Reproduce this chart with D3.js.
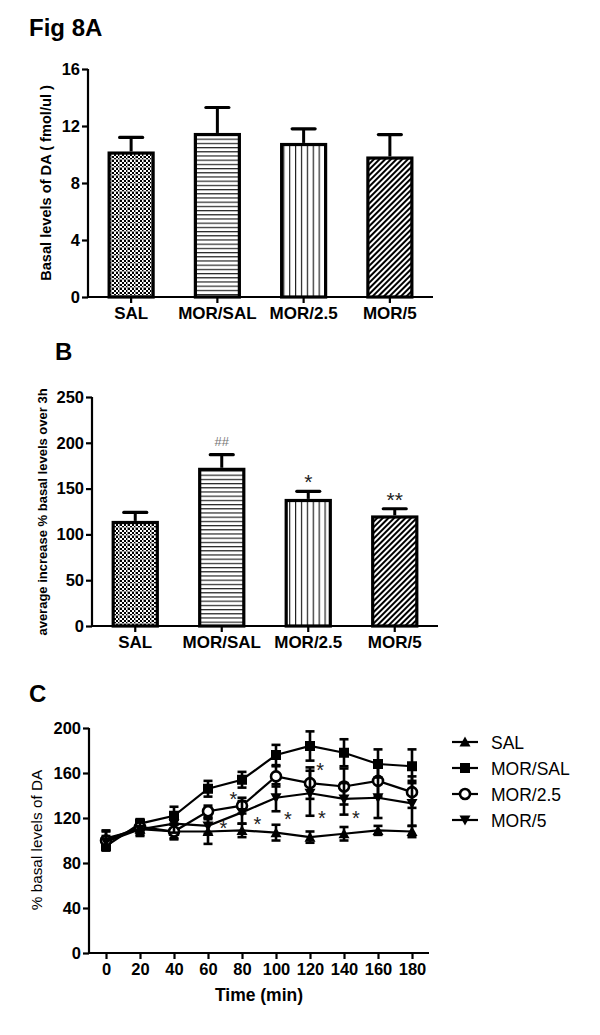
<!DOCTYPE html>
<html>
<head>
<meta charset="utf-8">
<script src="https://cdn.jsdelivr.net/npm/d3@7"></script>
<style>
body{margin:0;background:#fff;}
svg{display:block;font-family:"Liberation Sans",Arial,sans-serif;}
</style>
</head>
<body>
<svg id="chart" width="600" height="1035"></svg>
<script>
// ---------- DATA ----------
const categories = ["SAL", "MOR/SAL", "MOR/2.5", "MOR/5"];
const basalMeans = [10.1, 11.4, 10.7, 9.75];
const basalSEM   = [1.1, 1.9, 1.1, 1.65];
const basalTicks = [0, 4, 8, 12, 16];

const avgMeans = [113, 171, 137, 119];
const avgSEM   = [11, 16, 10, 9];
const avgTicks = [0, 50, 100, 150, 200, 250];
const avgMarks = ["", "##", "*", "**"];

const times = [0, 20, 40, 60, 80, 100, 120, 140, 160, 180];
const salMean    = [102, 110, 108, 108, 109, 107, 103, 106, 109, 108];
const salSEM     = [7, 5, 6, 11, 6, 7, 5, 6, 4, 5];
const morSalMean = [95, 115, 122, 146, 154, 176, 184, 178, 168, 166];
const morSalSEM  = [4, 4, 8, 7, 7, 9, 13, 12, 13, 15];
const mor25Mean  = [100, 112, 108, 126, 131, 157, 151, 148, 153, 143];
const mor25SEM   = [8, 5, 7, 5, 7, 9, 14, 16, 14, 14];
const mor5Mean   = [99, 110, 115, 113, 125, 138, 142, 137, 138, 133];
const mor5SEM    = [5, 6, 8, 7, 10, 12, 20, 14, 18, 20];
const timeTicks  = [0, 20, 40, 60, 80, 100, 120, 140, 160, 180];
const pctTicks   = [0, 40, 80, 120, 160, 200];
const seriesNames = ["SAL", "MOR/SAL", "MOR/2.5", "MOR/5"];
// asterisk annotations in panel C: [time, value]
const starTimes  = [75, 69, 89, 107, 126, 127, 147];
const starValues = [140, 114, 117, 122, 165, 123, 123];

// ---------- SETUP ----------
const svg = d3.select("#chart");
const defs = svg.append("defs");

// pattern: checker (SAL)
const pSal = defs.append("pattern").attr("id","pSal").attr("patternUnits","userSpaceOnUse").attr("width",8).attr("height",8);
pSal.append("rect").attr("width",8).attr("height",8).attr("fill","#fff");
[[0,0],[2,2],[4,0],[6,2],[0,4],[2,6],[4,4],[6,6]].forEach(([x,y])=>pSal.append("rect").attr("x",x).attr("y",y).attr("width",2).attr("height",2).attr("fill","#000"));
pSal.append("rect").attr("x",7).attr("y",0).attr("width",1).attr("height",8).attr("fill","#999");
pSal.append("rect").attr("x",0).attr("y",7).attr("width",8).attr("height",1).attr("fill","#999");
// horizontal lines (MOR/SAL)
const pH = defs.append("pattern").attr("id","pH").attr("patternUnits","userSpaceOnUse").attr("width",8).attr("height",4.2);
pH.append("rect").attr("width",8).attr("height",4.2).attr("fill","#fff");
pH.append("rect").attr("y",0).attr("width",8).attr("height",1.2).attr("fill","#222");
// vertical lines (MOR/2.5)
const pV = defs.append("pattern").attr("id","pV").attr("patternUnits","userSpaceOnUse").attr("width",5.9).attr("height",8);
pV.append("rect").attr("width",5.9).attr("height",8).attr("fill","#fff");
pV.append("rect").attr("x",0).attr("width",1.2).attr("height",8).attr("fill","#222");
// diagonal (MOR/5)
const pD = defs.append("pattern").attr("id","pD").attr("patternUnits","userSpaceOnUse").attr("width",4).attr("height",4).attr("patternTransform","rotate(45)");
pD.append("rect").attr("width",4).attr("height",4).attr("fill","#fff");
pD.append("rect").attr("x",0).attr("width",2).attr("height",4).attr("fill","#000");
const fills = ["url(#pSal)","url(#pH)","url(#pV)","url(#pD)"];

function styleAxis(g, fontSize){
  g.selectAll(".domain").attr("stroke","#000").attr("stroke-width",2.2);
  g.selectAll(".tick line").attr("stroke","#000").attr("stroke-width",2.2);
  g.selectAll(".tick text").attr("fill","#000").attr("font-weight","bold").attr("font-size",fontSize)
    .attr("font-family","'Liberation Sans',Arial,sans-serif");
}

function barPanel(opts){
  const x = d3.scaleBand().domain(categories).range(opts.xr).paddingInner(0.49).paddingOuter(0.245);
  const y = d3.scaleLinear().domain(opts.ydom).range(opts.yr);
  const g = svg.append("g");
  // bars
  g.selectAll("rect.bar").data(categories).join("rect").attr("class","bar")
    .attr("x",d=>x(d)).attr("width",x.bandwidth())
    .attr("y",(d,i)=>y(opts.means[i])).attr("height",(d,i)=>y(0)-y(opts.means[i]))
    .attr("fill",(d,i)=>fills[i]).attr("stroke","#000").attr("stroke-width",3.2);
  // error bars (upper)
  g.selectAll("line.err").data(categories).join("line").attr("class","err")
    .attr("x1",d=>x(d)+x.bandwidth()/2).attr("x2",d=>x(d)+x.bandwidth()/2)
    .attr("y1",(d,i)=>y(opts.means[i])-1.6).attr("y2",(d,i)=>y(opts.means[i]+opts.sem[i]))
    .attr("stroke","#000").attr("stroke-width",3);
  g.selectAll("line.cap").data(categories).join("line").attr("class","cap")
    .attr("x1",d=>x(d)+x.bandwidth()/2-11.5).attr("x2",d=>x(d)+x.bandwidth()/2+11.5)
    .attr("y1",(d,i)=>y(opts.means[i]+opts.sem[i])).attr("y2",(d,i)=>y(opts.means[i]+opts.sem[i]))
    .attr("stroke","#000").attr("stroke-width",3.2).attr("stroke-linecap","round");
  // axes
  const ya = g.append("g").attr("transform",`translate(${opts.xr[0]},0)`)
    .call(d3.axisLeft(y).tickValues(opts.ticks).tickSize(6).tickPadding(2).tickSizeOuter(0));
  styleAxis(ya, 16.5);
  const xa = g.append("g").attr("transform",`translate(0,${opts.yr[0]})`)
    .call(d3.axisBottom(x).tickSize(6).tickPadding(4).tickSizeOuter(0));
  styleAxis(xa, 17);
  xa.select(".domain").attr("d",`M${opts.xr[0]-1},0H${opts.xr[1]}`);
  ya.select(".domain").attr("d",`M0,${opts.yr[0]}V${opts.yr[1]}`);
  return {g,x,y};
}

// ---------- PANEL A ----------
svg.append("text").attr("x",29).attr("y",36).attr("font-size",24).attr("font-weight","bold").text("Fig 8A");
barPanel({xr:[88,433], yr:[297,69], ydom:[0,16], means:basalMeans, sem:basalSEM, ticks:basalTicks});
svg.append("text").attr("transform","translate(51,183) rotate(-90)").attr("text-anchor","middle")
  .attr("font-size",14.6).attr("font-weight","bold").text("Basal levels of DA ( fmol/ul )");

// ---------- PANEL B ----------
svg.append("text").attr("x",55).attr("y",360).attr("font-size",24).attr("font-weight","bold").text("B");
const B = barPanel({xr:[92,438], yr:[626,397], ydom:[0,250], means:avgMeans, sem:avgSEM, ticks:avgTicks});
svg.append("text").attr("transform","translate(47,512) rotate(-90)").attr("text-anchor","middle")
  .attr("font-size",13).attr("font-weight","bold").text("average increase % basal levels over 3h");
B.g.selectAll("text.mark").data(categories).join("text").attr("class","mark")
  .attr("x",d=>B.x(d)+B.x.bandwidth()/2)
  .attr("y",(d,i)=>B.y(avgMeans[i]+avgSEM[i]) - (i===1?9:2))
  .attr("text-anchor","middle").attr("font-size",(d,i)=>i===1?13:21)
  .attr("fill",(d,i)=>i===1?"#777":"#222").text((d,i)=>avgMarks[i]);

// ---------- PANEL C ----------
svg.append("text").attr("x",29).attr("y",702).attr("font-size",24).attr("font-weight","bold").text("C");
const xc = d3.scaleLinear().domain([-10,190]).range([89,429]);
const yc = d3.scaleLinear().domain([0,200]).range([953,728]);
const gc = svg.append("g");
const series = [
  {name:seriesNames[0], mean:salMean, sem:salSEM, sym:"up"},
  {name:seriesNames[1], mean:morSalMean, sem:morSalSEM, sym:"square"},
  {name:seriesNames[2], mean:mor25Mean, sem:mor25SEM, sym:"circle"},
  {name:seriesNames[3], mean:mor5Mean, sem:mor5SEM, sym:"down"}
];
const line = d3.line().x(d=>xc(d[0])).y(d=>yc(d[1]));
function drawMarker(sel, sym){
  if(sym==="square") sel.append("rect").attr("x",-5).attr("y",-5).attr("width",10).attr("height",10).attr("fill","#000");
  else if(sym==="circle") sel.append("circle").attr("r",5).attr("fill","#fff").attr("stroke","#000").attr("stroke-width",2.6);
  else if(sym==="up") sel.append("path").attr("d","M0,-5.5L5.5,4.5L-5.5,4.5Z").attr("fill","#000");
  else sel.append("path").attr("d","M0,5.5L5.5,-4.5L-5.5,-4.5Z").attr("fill","#000");
}
series.forEach(s=>{
  const pts = times.map((t,i)=>[t,s.mean[i],s.sem[i]]);
  const sg = gc.append("g");
  sg.append("path").datum(pts).attr("d",line).attr("fill","none").attr("stroke","#000").attr("stroke-width",2.2);
  sg.selectAll("line.v").data(pts).join("line").attr("class","v")
    .attr("x1",d=>xc(d[0])).attr("x2",d=>xc(d[0])).attr("y1",d=>yc(d[1]-d[2])).attr("y2",d=>yc(d[1]+d[2]))
    .attr("stroke","#000").attr("stroke-width",2.6);
  ["lo","hi"].forEach(k=>{
    sg.selectAll("line.c"+k).data(pts).join("line").attr("class","c"+k)
      .attr("x1",d=>xc(d[0])-4.5).attr("x2",d=>xc(d[0])+4.5)
      .attr("y1",d=>yc(k==="lo"?d[1]-d[2]:d[1]+d[2])).attr("y2",d=>yc(k==="lo"?d[1]-d[2]:d[1]+d[2]))
      .attr("stroke","#000").attr("stroke-width",2.6);
  });
  sg.selectAll("g.m").data(pts).join("g").attr("class","m")
    .attr("transform",d=>`translate(${xc(d[0])},${yc(d[1])})`).each(function(){drawMarker(d3.select(this), s.sym);});
});
// asterisks
gc.selectAll("text.star").data(starTimes).join("text").attr("class","star")
  .attr("x",d=>xc(d)).attr("y",(d,i)=>yc(starValues[i])+10)
  .attr("text-anchor","middle").attr("font-size",20).attr("fill","#222").text("*");
// axes
const yca = gc.append("g").attr("transform",`translate(89,0)`)
  .call(d3.axisLeft(yc).tickValues(pctTicks).tickSize(6).tickPadding(2).tickSizeOuter(0));
styleAxis(yca,16.5);
yca.select(".domain").attr("d","M0,953V728");
const xca = gc.append("g").attr("transform",`translate(0,953)`)
  .call(d3.axisBottom(xc).tickValues(timeTicks).tickSize(6).tickPadding(4).tickSizeOuter(0));
styleAxis(xca,16.5);
xca.select(".domain").attr("d","M88,0H429");
svg.append("text").attr("x",259).attr("y",1001).attr("text-anchor","middle").attr("font-size",17.5).attr("font-weight","bold").text("Time (min)");
svg.append("text").attr("transform","translate(42,840) rotate(-90)").attr("text-anchor","middle")
  .attr("font-size",15.3).text("% basal levels of DA");

// legend
const leg = svg.append("g");
const legY = [742, 768, 794, 820];
series.forEach((s,i)=>{
  const lg = leg.append("g").attr("transform",`translate(465,${legY[i]})`);
  lg.append("line").attr("x1",-13).attr("x2",13).attr("stroke","#000").attr("stroke-width",2.2);
  drawMarker(lg, s.sym);
  lg.append("text").attr("x",26).attr("y",6.5).attr("font-size",17.5).text(s.name);
});
</script>
</body>
</html>
